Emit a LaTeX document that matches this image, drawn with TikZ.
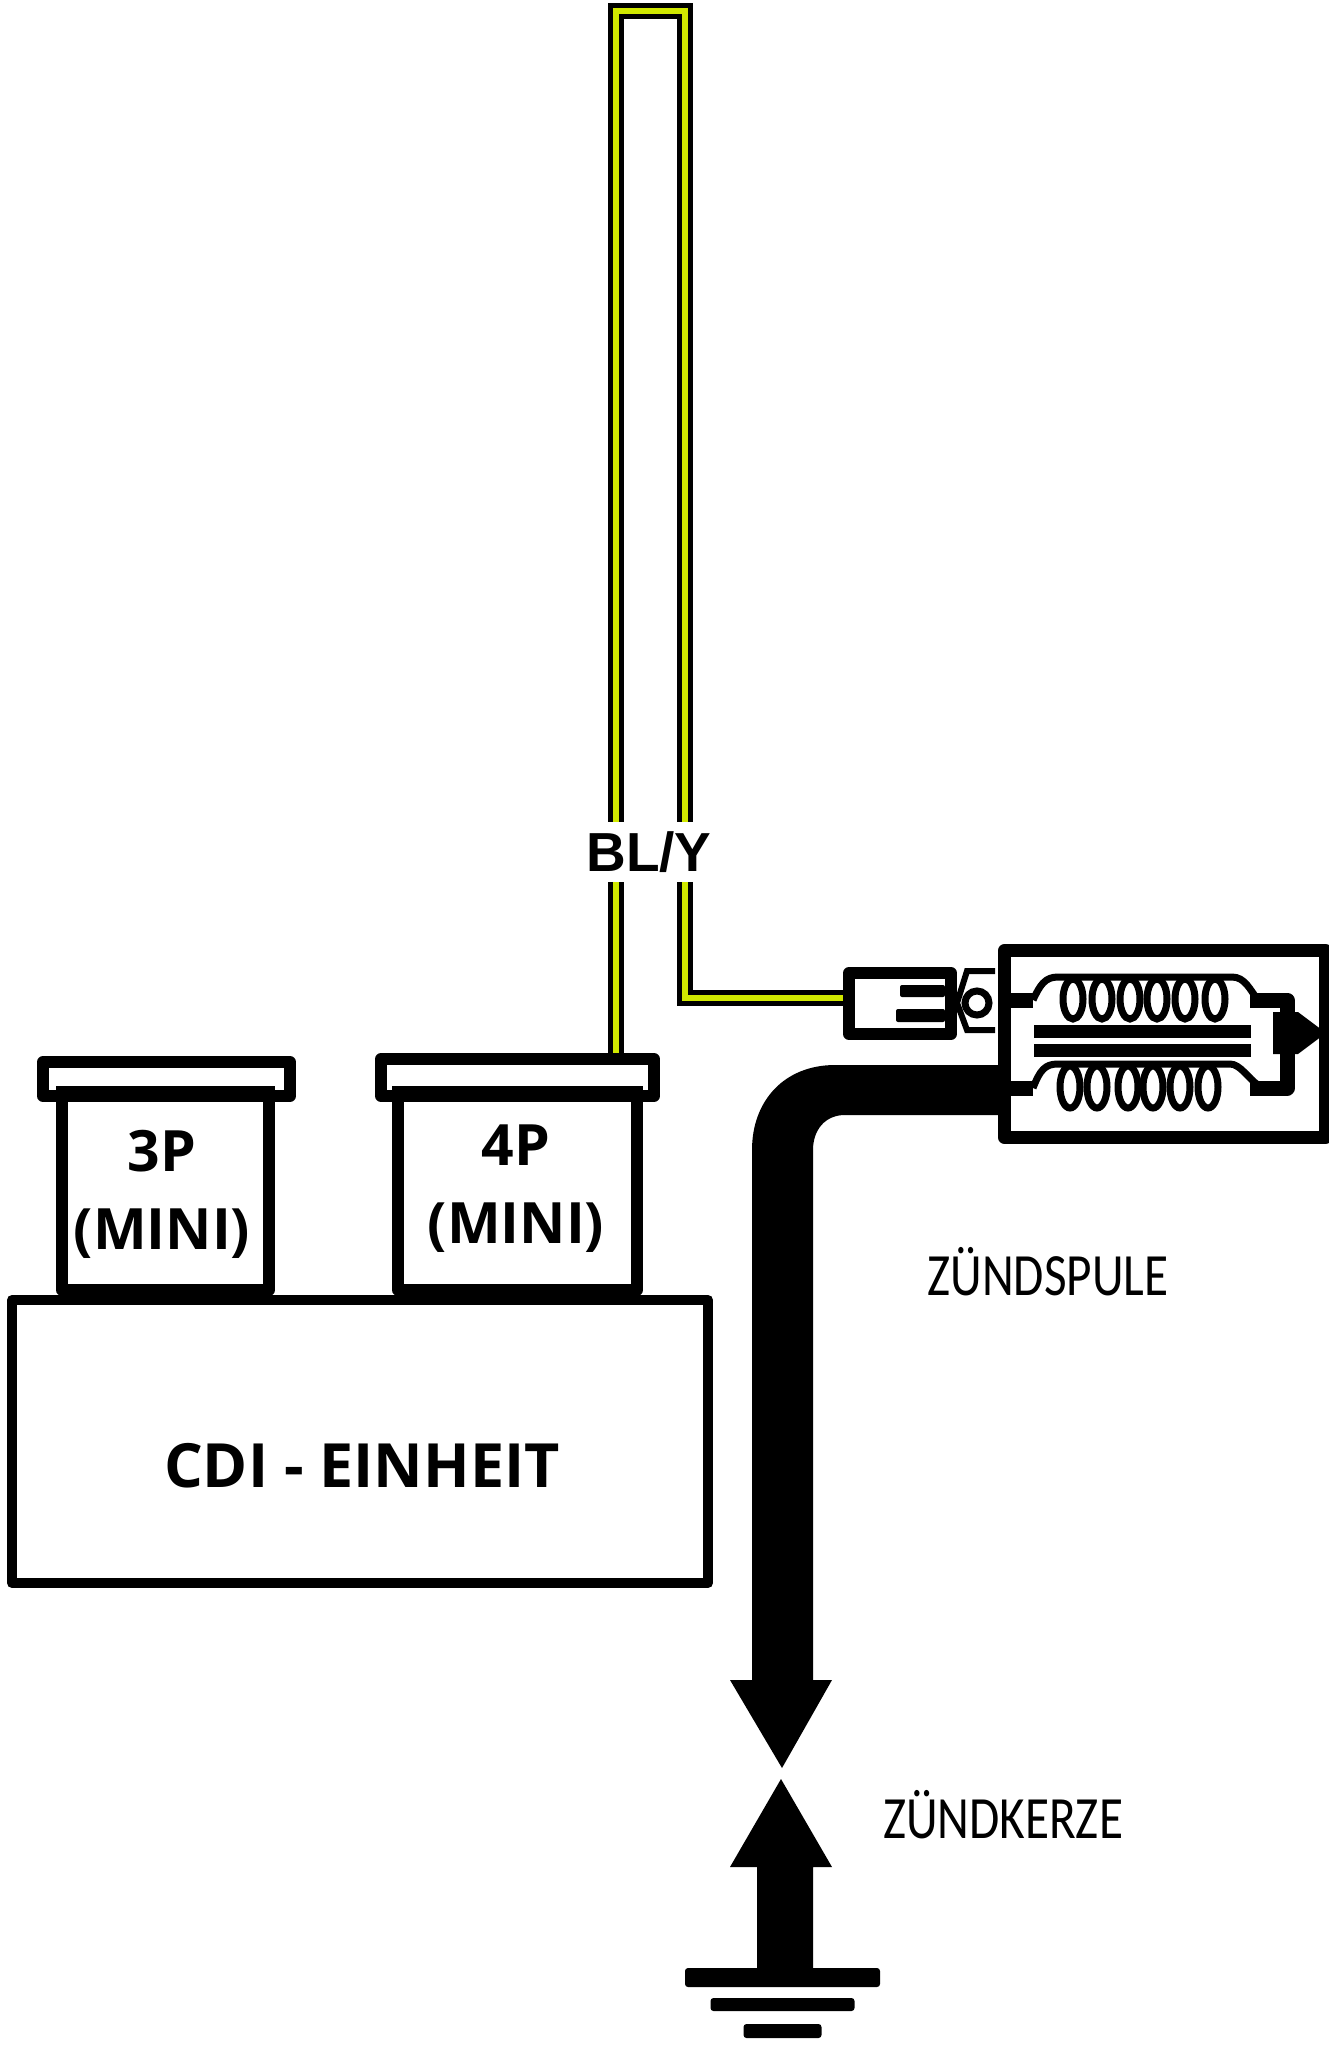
\documentclass[tikz,border=0pt]{standalone}
\usepackage{fontspec}
\setmainfont{Open Sans}
\newfontfamily\wirefont{Liberation Sans}
\newfontfamily\thinfont{Carlito}
\usetikzlibrary{positioning}
\definecolor{wireyellow}{RGB}{208,232,0}
\tikzset{
  box/.style={draw,fill=white,rectangle,line join=round,inner sep=0pt,outer sep=0pt},
  plate/.style={fill=black,draw=none,rectangle,inner sep=0pt,outer sep=0pt},
  wire/.style={draw=black,double=wireyellow,line width=5pt,double distance=5.5pt,line join=miter},
  coilwire/.style={line width=15pt,line join=round},
  turn/.style={draw,line width=7pt},
  title/.style={font=\fontsize{57}{78}\selectfont\bfseries,inner sep=0pt,align=center},
  thin/.style={font=\fontsize{60}{64}\thinfont,inner sep=0pt,xscale=.82},
}
\begin{document}
\begin{tikzpicture}[x=1pt,y=-1pt]
\useasboundingbox (0,0) rectangle (1329,2045);

% yellow wire
\coordinate (W1) at (616,1058);
\coordinate (W2) at (616,11);
\coordinate (W3) at (685,11);
\coordinate (W4) at (685,998);
\coordinate (W5) at (848,998);
\draw[wire] (W1) -- (W2) -- (W3) -- (W4) -- (W5);
\node[fill=white,inner sep=0pt,minimum width=124pt,minimum height=60pt,font=\fontsize{55}{58}\wirefont\bfseries] (BLY) at (649,852) {BL/Y};

% connectors on the unit
\node[box,line width=12pt,minimum width=247pt,minimum height=34pt] (K3) at (166.5,1079) {};
\node[box,line width=12pt,minimum width=273pt,minimum height=37pt] (K4) at (517.5,1077.5) {};
\node[box,line width=12pt,minimum width=207pt,minimum height=194pt] (B3) at (165.5,1193) {};
\node[box,line width=12pt,minimum width=239pt,minimum height=194pt] (B4) at (517.5,1193) {};
\node[plate,minimum width=219pt,minimum height=16pt] (H3) at (165.5,1094) {};
\node[plate,minimum width=251pt,minimum height=16pt] (H4) at (517.5,1094) {};
\node[box,line width=10pt,minimum width=696pt,minimum height=283pt] (CDI) at (360,1441.5) {};
\node[title] (T3) at (162,1194) {3P\\(MINI)};
\node[title] (T4) at (516,1189) {4P\\(MINI)};
\node[title,font=\fontsize{61}{64}\selectfont\bfseries] (TC) at (362,1466) {CDI - EINHEIT};

% coil
\node[box,line width=13pt,minimum width=321pt,minimum height=187pt] (S) at (1165,1044) {};
\node[plate,minimum width=217pt,minimum height=13pt] (P1) at (1142.5,1031) {};
\node[plate,minimum width=217pt,minimum height=13pt] (P2) at (1142.5,1050) {};
\coordinate (H) at (1287,1033);
\draw[coilwire] (S.west |- 0,1000) -- (1033,1000);
\draw[coilwire] (S.west |- 0,1088) -- (1033,1088);
\draw[line width=7pt] (1033,1000) .. controls (1040,985) and (1045,977) .. (1058,977) -- (1232,977) .. controls (1245,977) and (1250,990) .. (1258,1000);
\draw[line width=7pt] (1033,1088) .. controls (1040,1070) and (1045,1064) .. (1058,1064) -- (1230,1064) .. controls (1240,1064) and (1248,1078) .. (1258,1085);
\draw[line width=15pt,line join=round] (1250,1000) -- (1287,1000) -- (H) -- (1287,1088) -- (1250,1088);
\fill (1273,1012) -- (1298,1012) -- (1326,1033) -- (1298,1054) -- (1273,1054) -- cycle;
\foreach \x in {1073,1102,1130,1157,1185,1215}
  \draw[turn] (\x,999) ellipse (10pt and 20pt);
\foreach \x in {1070,1097,1128,1153,1180,1208}
  \draw[turn] (\x,1087) ellipse (10pt and 21pt);

% plug
\node[box,line width=12pt,minimum width=102pt,minimum height=61pt] (C) at (900,1003.5) {};
\fill[line join=round,rounded corners=2pt] (900,985) rectangle (945,997);
\fill[line join=round,rounded corners=2pt] (896,1009) rectangle (945,1022);
\coordinate (L1) at (995,971);
\coordinate (L2) at (967,971);
\coordinate (L3) at (957,1003);
\coordinate (L4) at (967,1030);
\coordinate (L5) at (995,1030);
\draw[line width=6pt] (L1) -- (L2) -- (L3) -- (L4) -- (L5);
\node[draw,circle,fill=white,line width=7pt,minimum size=24pt,inner sep=0pt] (R) at (977,1003) {};

% high tension lead
\coordinate (A1) at (782,1768);
\coordinate (A2) at (781,1779);
\fill (S.west |- 0,1065) -- (835,1065) .. controls (785,1065) and (752,1100) .. (752,1150) -- (752,1680) -- (730,1680) -- (A1) -- (832,1680) -- (813,1680) -- (813,1150) .. controls (813,1130) and (825,1115) .. (845,1115) -- (S.west |- 0,1115) -- cycle;
\fill (A2) -- (832,1867) -- (813,1867) -- (813,1972) -- (757,1972) -- (757,1867) -- (730,1867) -- cycle;

% ground
\node[plate,rounded corners=3pt,minimum width=195pt,minimum height=19pt] (G1) at (782.5,1977.5) {};
\node[plate,rounded corners=3pt,minimum width=144pt,minimum height=13pt] (G2) [below=11pt of G1] {};
\node[plate,rounded corners=3pt,minimum width=78pt,minimum height=14pt] (G3) [below=13pt of G2] {};

\node[thin] (TS) at (1048,1272) {ZÜNDSPULE};
\node[thin] (TK) at (1003,1815) {ZÜNDKERZE};
\end{tikzpicture}
\end{document}
